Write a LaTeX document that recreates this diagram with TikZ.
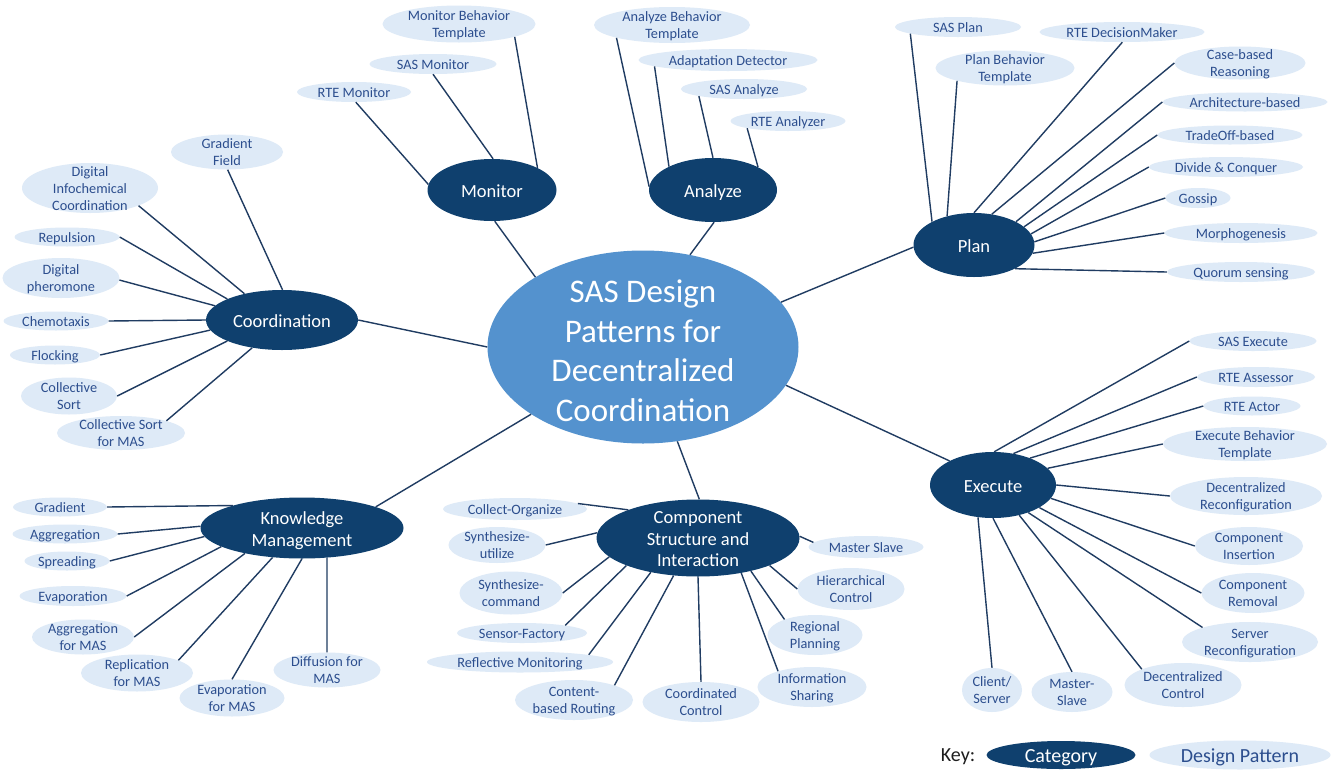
\documentclass[tikz,border=0pt]{standalone}
\usepackage{fontspec}
\setmainfont{Carlito}
\usetikzlibrary{shapes.geometric}
\definecolor{catfill}{RGB}{15,64,110}
\definecolor{ctrfill}{RGB}{84,146,206}
\definecolor{patfill}{RGB}{222,234,247}
\definecolor{pattext}{RGB}{44,78,142}
\definecolor{linecol}{RGB}{32,60,98}
\definecolor{keytext}{RGB}{30,30,30}
\newcommand\cshift{0pt}
\newcommand\cbox[1]{\makebox[0pt]{\raisebox{\dimexpr(\depth-\height)/2-\cshift\relax}[0pt][0pt]{\begin{tabular}{@{}c@{}}#1\end{tabular}}}}
\tikzset{
  pat/.style={ellipse, fill=patfill, inner sep=0pt, text=pattext, font=\fontsize{14.3}{16.8}\selectfont\renewcommand\cshift{2pt}},
  cat/.style={ellipse, fill=catfill, inner sep=0pt, text=white, font=\fontsize{18.5}{21.5}\selectfont\renewcommand\cshift{3pt}},
  ctr/.style={ellipse, fill=ctrfill, inner sep=0pt, text=white, font=\fontsize{33}{39.5}\selectfont\renewcommand\cshift{7pt}},
  keypat/.style={pat, font=\fontsize{20}{24}\selectfont\renewcommand\cshift{2.5pt}},
  keycat/.style={cat, font=\fontsize{20}{24}\selectfont\renewcommand\cshift{2.5pt}},
  conn/.style={draw=linecol, line width=1.4pt},
}
\newcommand\pnode[6]{\node[#1, minimum width=#4pt, minimum height=#5pt] (#2) at (#3) {\cbox{#6}};}
\begin{document}
\begin{tikzpicture}[x=1pt, y=-1pt]
\fill[white] (0,0) rectangle (1334,769);
\useasboundingbox (0,0) rectangle (1334,769);

% centre
\pnode{ctr}{C}{643,347}{311}{193}{SAS Design\\Patterns for\\Decentralized\\Coordination}

% categories
\pnode{cat}{mon}{492,190}{129}{62}{Monitor}
\pnode{cat}{ana}{713,190}{128}{64}{Analyze}
\pnode{cat}{plan}{974,245}{121}{64}{Plan}
\pnode{cat}{coord}{282,320}{152}{60}{Coordination}
\pnode{cat}{km}{302,528}{203}{61}{Knowledge\\Management}
\pnode{cat}{csi}{698,538}{203}{77}{Component\\Structure and\\Interaction}
\pnode{cat}{exe}{993,485}{126}{66}{Execute}

% Monitor patterns
\pnode{pat}{rtem}{354,92}{114}{20}{RTE Monitor}
\pnode{pat}{sasm}{433,64}{127}{20}{SAS Monitor}
\pnode{pat}{mbt}{459,24}{153}{37}{Monitor Behavior\\Template}

% Analyze patterns
\pnode{pat}{abt}{672,25}{156}{36}{Analyze Behavior\\Template}
\pnode{pat}{ad}{728,60}{179}{22}{Adaptation Detector}
\pnode{pat}{sasa}{744,89}{126}{20}{SAS Analyze}
\pnode{pat}{rtea}{788,121}{115}{20}{RTE Analyzer}

% Plan patterns
\pnode{pat}{sasp}{958,27}{126}{20}{SAS Plan}
\pnode{pat}{pbt}{1005,68}{139}{35}{Plan Behavior\\Template}
\pnode{pat}{rtedm}{1122,32}{165}{20}{RTE DecisionMaker}
\pnode{pat}{cbr}{1240,63}{131}{33}{Case-based\\Reasoning}
\pnode{pat}{arch}{1245,102}{165}{19}{Architecture-based}
\pnode{pat}{trade}{1230,135}{145}{19}{TradeOff-based}
\pnode{pat}{divc}{1226,167}{154}{20}{Divide \& Conquer}
\pnode{pat}{goss}{1198,198}{65}{20}{Gossip}
\pnode{pat}{morph}{1241,233}{153}{20}{Morphogenesis}
\pnode{pat}{quor}{1241,272}{148}{20}{Quorum sensing}

% Coordination patterns
\pnode{pat}{gf}{227,152}{112}{35}{Gradient\\Field}
\pnode{pat}{dic}{90,188}{136}{50}{Digital\\Infochemical\\Coordination}
\pnode{pat}{rep}{67,237}{105}{19}{Repulsion}
\pnode{pat}{dph}{61,278}{117}{40}{Digital\\pheromone}
\pnode{pat}{chem}{56,321}{105}{19}{Chemotaxis}
\pnode{pat}{flock}{55,355}{90}{19}{Flocking}
\pnode{pat}{cs}{69,396}{96}{37}{Collective\\Sort}
\pnode{pat}{csm}{121,433}{128}{34}{Collective Sort\\for MAS}

% Knowledge Management patterns
\pnode{pat}{grad}{60,507}{94}{19}{Gradient}
\pnode{pat}{aggr}{65,534}{105}{19}{Aggregation}
\pnode{pat}{spr}{67,561}{85}{19}{Spreading}
\pnode{pat}{evap}{73,596}{107}{20}{Evaporation}
\pnode{pat}{aggm}{83,637}{102}{35}{Aggregation\\for MAS}
\pnode{pat}{repl}{137,673}{112}{37}{Replication\\for MAS}
\pnode{pat}{evapm}{232,698}{105}{37}{Evaporation\\for MAS}
\pnode{pat}{diff}{327,670}{107}{35}{Diffusion for\\MAS}

% Component Structure patterns
\pnode{pat}{co}{515,509}{144}{22}{Collect-Organize}
\pnode{pat}{su}{497,545}{97}{36}{Synthesize-\\utilize}
\pnode{pat}{sc}{511,593}{103}{43}{Synthesize-\\command}
\pnode{pat}{sf}{522,633}{130}{20}{Sensor-Factory}
\pnode{pat}{rm}{520,662}{186}{21}{Reflective Monitoring}
\pnode{pat}{cbrt}{574,700}{118}{40}{Content-\\based Routing}
\pnode{pat}{cc}{701,702}{117}{40}{Coordinated\\Control}
\pnode{pat}{is}{812,687}{109}{40}{Information\\Sharing}
\pnode{pat}{rp}{815,635}{95}{40}{Regional\\Planning}
\pnode{pat}{hc}{851,589}{107}{42}{Hierarchical\\Control}
\pnode{pat}{ms}{866,547}{115}{22}{Master Slave}

% Execute patterns
\pnode{pat}{sase}{1253,341}{127}{20}{SAS Execute}
\pnode{pat}{rteas}{1256,377}{118}{20}{RTE Assessor}
\pnode{pat}{rteac}{1252,406}{97}{19}{RTE Actor}
\pnode{pat}{ebt}{1245,444}{164}{34}{Execute Behavior\\Template}
\pnode{pat}{dr}{1246,496}{152}{38}{Decentralized\\Reconfiguration}
\pnode{pat}{ci}{1249,546}{108}{38}{Component\\Insertion}
\pnode{pat}{cr}{1253,593}{103}{40}{Component\\Removal}
\pnode{pat}{sr}{1250,642}{136}{40}{Server\\Reconfiguration}
\pnode{pat}{dc}{1183,685}{117}{44}{Decentralized\\Control}
\pnode{pat}{msl}{1072,692}{81}{40}{Master-\\Slave}
\pnode{pat}{cls}{992,690}{60}{44}{Client/\\Server}

% key
\node[text=keytext, font=\fontsize{20}{24}\selectfont, inner sep=0pt] (keylbl) at (958,757) {Key:};
\pnode{keycat}{keyc}{1061,755}{149}{28}{Category}
\pnode{keypat}{keyp}{1240,755}{181}{29}{Design Pattern}

% category -> centre
\draw[conn] (mon.275) -- (C.147.5);
\draw[conn] (ana.272) -- (C.63);
\draw[conn] (plan.182) -- (C.18);
\draw[conn] (coord.0) -- (C.180);
\draw[conn] (km.16) -- (C.211);
\draw[conn] (csi.88) -- (C.290);
\draw[conn] (exe.151) -- (C.345);

% Monitor
\draw[conn] (rtem.280) -- (mon.175);
\draw[conn] (sasm.270) -- (mon.88);
\draw[conn] (mbt.347) -- (mon.26);

% Analyze
\draw[conn] (abt.193) -- (ana.177);
\draw[conn] (ad.185) -- (ana.152);
\draw[conn] (sasa.189) -- (ana.90);
\draw[conn] (rtea.190) -- (ana.27);

% Plan
\draw[conn] (sasp.188) -- (plan.151);
\draw[conn] (pbt.195) -- (plan.133);
\draw[conn] (rtedm.272) -- (plan.90);
\draw[conn] (cbr.180) -- (plan.60);
\draw[conn] (arch.180) -- (plan.29);
\draw[conn] (trade.180) -- (plan.20);
\draw[conn] (divc.180) -- (plan.11);
\draw[conn] (goss.180) -- (plan.3);
\draw[conn] (morph.180) -- (plan.352);
\draw[conn] (quor.180) -- (plan.330);

% Coordination
\draw[conn] (gf.272) -- (coord.89);
\draw[conn] (dic.340) -- (coord.145);
\draw[conn] (rep.0) -- (coord.159);
\draw[conn] (dph.358) -- (coord.168);
\draw[conn] (chem.0) -- (coord.180);
\draw[conn] (flock.0) -- (coord.188);
\draw[conn] (cs.0) -- (coord.201);
\draw[conn] (csm.15) -- (coord.223);

% Knowledge Management
\draw[conn] (grad.0) -- (km.162);
\draw[conn] (aggr.0) -- (km.179);
\draw[conn] (spr.0) -- (km.185);
\draw[conn] (evap.0) -- (km.193);
\draw[conn] (aggm.0) -- (km.204);
\draw[conn] (repl.17) -- (km.225);
\draw[conn] (evapm.90) -- (km.270);
\draw[conn] (diff.90) -- (km.310);

% Component Structure and Interaction
\draw[conn] (co.5) -- (csi.158);
\draw[conn] (su.0) -- (csi.177);
\draw[conn] (sc.0) -- (csi.192);
\draw[conn] (sf.10) -- (csi.201);
\draw[conn] (rm.6) -- (csi.216);
\draw[conn] (cbrt.20) -- (csi.237);
\draw[conn] (cc.90) -- (csi.270);
\draw[conn] (is.155) -- (csi.321);
\draw[conn] (rp.153) -- (csi.328);
\draw[conn] (hc.180) -- (csi.339);
\draw[conn] (ms.175) -- (csi.1);

% Execute
\draw[conn] (sase.180) -- (exe.88);
\draw[conn] (rteas.180) -- (exe.57);
\draw[conn] (rteac.180) -- (exe.36);
\draw[conn] (ebt.180) -- (exe.17);
\draw[conn] (dr.180) -- (exe.0);
\draw[conn] (ci.180) -- (exe.347);
\draw[conn] (cr.180) -- (exe.334);
\draw[conn] (sr.163) -- (exe.322);
\draw[conn] (dc.159) -- (exe.311);
\draw[conn] (msl.90) -- (exe.270);
\draw[conn] (cls.90) -- (exe.245);
\end{tikzpicture}
\end{document}
